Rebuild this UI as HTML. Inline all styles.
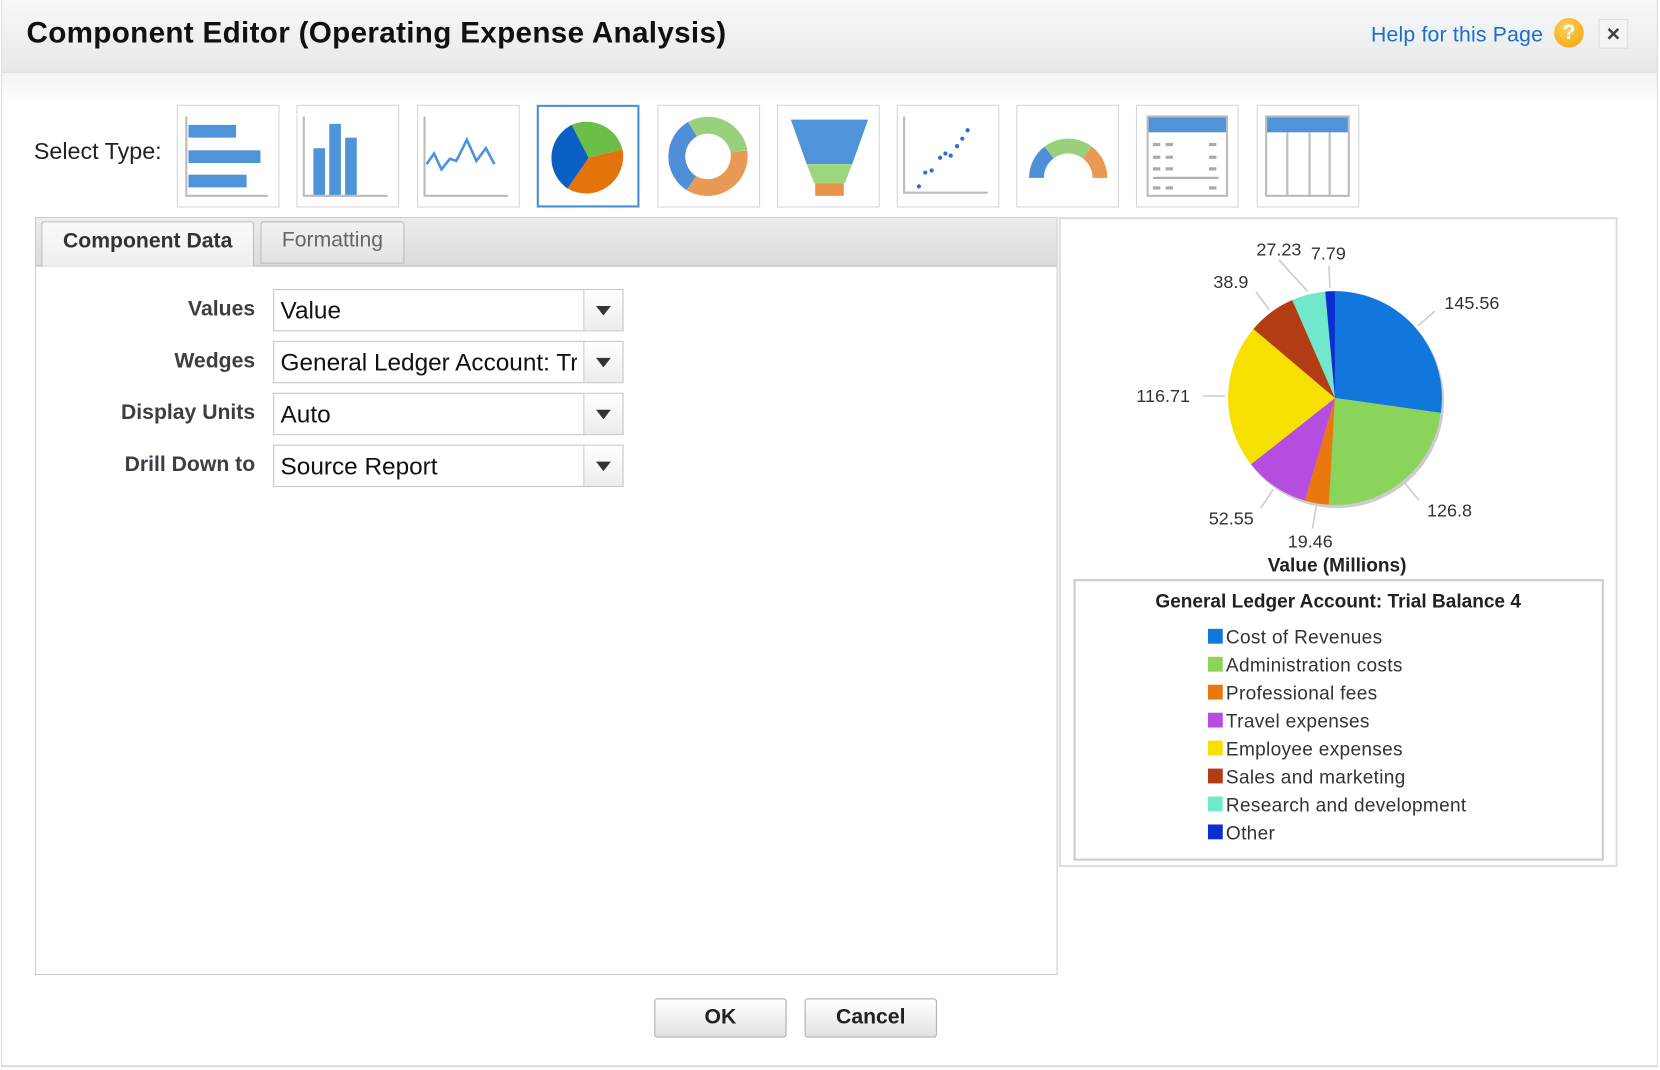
<!DOCTYPE html>
<html><head><meta charset="utf-8">
<style>
html,body{margin:0;padding:0;background:#fff;overflow:hidden;}
body{width:1660px;height:1070px;font-family:"Liberation Sans",Arial,sans-serif;}
#wrap{position:absolute;left:0;top:0;width:1568px;height:1011px;transform:scale(1.05867);transform-origin:0 0;}
.abs{position:absolute;}
.tbox{position:absolute;top:99px;width:97px;height:97px;border:1px solid #d6d6d6;background:#fff;box-sizing:border-box;}
.lbl{position:absolute;right:1327px;font-size:20px;font-weight:bold;color:#3d3d45;}
.sel{position:absolute;left:258px;width:331px;height:40px;border:1px solid #c4c4c4;box-sizing:border-box;background:#fff;font-size:23px;color:#111;}
.sel span{position:absolute;left:6px;top:6px;white-space:nowrap;overflow:hidden;width:282px;}
.sel i{position:absolute;right:0;top:0;width:36px;height:38px;border-left:1px solid #ccc;background:linear-gradient(#fff,#ececec);}
.sel i:after{content:"";position:absolute;left:11px;top:15px;border-left:7px solid transparent;border-right:7px solid transparent;border-top:9px solid #333;}
.btn{position:absolute;top:943px;height:37px;width:125px;border:1px solid #aaa;border-radius:3px;background:linear-gradient(#fff,#e2e2e2);box-sizing:border-box;font-size:20px;font-weight:bold;color:#222;text-align:center;line-height:35px;}
</style></head><body>
<div id="wrap">
<div class="abs" style="left:2px;top:0;width:1564px;height:68px;background:linear-gradient(#f7f8f9,#e6e8ea);border-bottom:1px solid #e0e0e0;"></div>
<div class="abs" style="left:2px;top:69px;width:1564px;height:30px;background:linear-gradient(#f2f2f2,#fff);"></div>
<div class="abs" style="left:1px;top:0;width:1565px;height:1008px;border-left:1px solid #ddd;border-right:1px solid #ddd;border-bottom:2px solid #ddd;box-sizing:border-box;"></div>
<div class="abs" style="left:25px;top:15px;font-size:28px;font-weight:bold;color:#111;letter-spacing:0.3px;">Component Editor (Operating Expense Analysis)</div>
<div class="abs" style="left:1295px;top:22px;font-size:20px;color:#1a6fc9;letter-spacing:0.2px;">Help for this Page</div>
<div class="abs" style="left:1468px;top:17px;width:28px;height:28px;border-radius:50%;background:radial-gradient(circle at 40% 35%,#ffd060,#f0a000);color:#fff;font-weight:bold;font-size:20px;text-align:center;line-height:28px;">?</div>
<div class="abs" style="left:1510px;top:18px;width:28px;height:28px;border:1px solid #ddd;background:#f4f4f4;box-sizing:border-box;text-align:center;font-size:22px;font-weight:bold;line-height:26px;color:#444;">×</div>

<div class="abs" style="left:32px;top:130px;font-size:22px;color:#222;">Select Type:</div>

<div class="tbox" style="left:167px"><svg width="95" height="95"><rect x="10" y="18" width="45" height="12" fill="#4f94db"/><rect x="10" y="42" width="68" height="12" fill="#4f94db"/><rect x="10" y="65" width="55" height="12" fill="#4f94db"/><path d="M8 10V85H85" stroke="#bbb" stroke-width="2" fill="none"/></svg></div>
<div class="tbox" style="left:280px"><svg width="95" height="95"><rect x="15" y="40" width="11" height="45" fill="#4f94db"/><rect x="30" y="17" width="11" height="68" fill="#4f94db"/><rect x="45" y="30" width="11" height="55" fill="#4f94db"/><path d="M6 10V85H85" stroke="#bbb" stroke-width="2" fill="none"/></svg></div>
<div class="tbox" style="left:394px"><svg width="95" height="95"><polyline points="8,55 15,45 22,60 30,50 36,52 46,32 55,52 64,40 72,55" stroke="#4f94db" stroke-width="2.5" fill="none"/><path d="M6 10V85H85" stroke="#bbb" stroke-width="2" fill="none"/></svg></div>
<div class="tbox" style="left:507px;border:2px solid #4a90d9"><svg width="93" height="93"><g transform="translate(47,48)"><path d="M0 0L-16 -31A35 35 0 0 1 32 -8Z" fill="#6bbf47"/><path d="M0 0L32 -8A35 35 0 0 1 -20 29Z" fill="#e3730a"/><path d="M0 0L-20 29A35 35 0 0 1 -16 -31Z" fill="#0a5fc4"/></g></svg></div>
<div class="tbox" style="left:621px"><svg width="95" height="95"><g transform="translate(47,48)" fill="none" stroke-width="16"><path d="M-15 -26A30 30 0 0 1 29 -5" stroke="#98d07e"/><path d="M29 -5A30 30 0 0 1 -16 25" stroke="#e89a55"/><path d="M-16 25A30 30 0 0 1 -15 -26" stroke="#4f8fd8"/></g></svg></div>
<div class="tbox" style="left:734px"><svg width="95" height="95"><path d="M12 13H85L70 55H27Z" fill="#4f94db"/><path d="M27 55H70L63 73H34Z" fill="#9cd67e"/><rect x="35" y="73" width="27" height="12" fill="#e8924a"/></svg></div>
<div class="tbox" style="left:847px"><svg width="95" height="95"><g fill="#2f6fd0"><circle cx="20" cy="76" r="2"/><circle cx="26" cy="63" r="2"/><circle cx="32" cy="61" r="2"/><circle cx="40" cy="49" r="2"/><circle cx="45" cy="45" r="2"/><circle cx="50" cy="47" r="2"/><circle cx="56" cy="38" r="2"/><circle cx="61" cy="31" r="2"/><circle cx="66" cy="23" r="2"/></g><path d="M6 10V82H85" stroke="#bbb" stroke-width="2" fill="none"/></svg></div>
<div class="tbox" style="left:960px"><svg width="95" height="95"><g transform="translate(48,68)" fill="none" stroke-width="14"><path d="M-30 0A30 30 0 0 1 -18 -24" stroke="#4f8fd8"/><path d="M-18 -24A30 30 0 0 1 18 -24" stroke="#98d07e"/><path d="M18 -24A30 30 0 0 1 30 0" stroke="#e89a55"/></g></svg></div>
<div class="tbox" style="left:1073px"><svg width="95" height="95"><rect x="10" y="10" width="75" height="15" fill="#4f94db"/><rect x="10" y="10" width="75" height="75" stroke="#bbb" stroke-width="2" fill="none"/><g fill="#aaa"><rect x="15" y="35" width="7" height="3"/><rect x="27" y="35" width="7" height="3"/><rect x="68" y="35" width="7" height="3"/><rect x="15" y="47" width="7" height="3"/><rect x="27" y="47" width="7" height="3"/><rect x="68" y="47" width="7" height="3"/><rect x="15" y="58" width="7" height="3"/><rect x="27" y="58" width="7" height="3"/><rect x="68" y="58" width="7" height="3"/><rect x="15" y="67" width="62" height="2"/><rect x="15" y="76" width="7" height="3"/><rect x="27" y="76" width="7" height="3"/><rect x="68" y="76" width="7" height="3"/></g></svg></div>
<div class="tbox" style="left:1187px"><svg width="95" height="95"><rect x="8" y="10" width="78" height="15" fill="#4f94db"/><rect x="8" y="10" width="78" height="75" stroke="#bbb" stroke-width="2" fill="none"/><path d="M28 25V85M49 25V85M68 25V85" stroke="#bbb" stroke-width="2"/></svg></div>

<div class="abs" style="left:33px;top:205px;width:966px;height:716px;border:1px solid #ccc;box-sizing:border-box;background:#fff;"></div>
<div class="abs" style="left:34px;top:206px;width:964px;height:46px;background:linear-gradient(#ececec,#dcdcdc);border-bottom:2px solid #ccc;box-sizing:border-box;"></div>
<div class="abs" style="left:39px;top:209px;width:201px;height:43px;background:linear-gradient(#fafafa,#eee);border:1px solid #bbb;border-bottom:none;border-radius:3px 3px 0 0;box-sizing:border-box;font-size:20px;font-weight:bold;color:#333;text-align:center;line-height:36px;">Component Data</div>
<div class="abs" style="left:246px;top:209px;width:136px;height:40px;background:linear-gradient(#f2f2f2,#e2e2e2);border:1px solid #bbb;border-radius:3px 3px 0 0;box-sizing:border-box;font-size:20px;color:#666;text-align:center;line-height:34px;">Formatting</div>

<div class="lbl" style="top:281px">Values</div>
<div class="sel" style="top:273px"><span>Value</span><i></i></div>
<div class="lbl" style="top:330px">Wedges</div>
<div class="sel" style="top:322px"><span style="width:280px">General Ledger Account: Trial Balance 4</span><i></i></div>
<div class="lbl" style="top:379px">Display Units</div>
<div class="sel" style="top:371px"><span>Auto</span><i></i></div>
<div class="lbl" style="top:428px">Drill Down to</div>
<div class="sel" style="top:420px"><span>Source Report</span><i></i></div>

<div class="abs" style="left:1000px;top:205px;width:528px;height:614px;border:2px solid #ddd;box-sizing:border-box;background:#fff;"></div>
<svg class="abs" id="chart" style="left:1000px;top:205px" width="528" height="614"></svg>

<div class="btn" style="left:618px">OK</div>
<div class="btn" style="left:760px">Cancel</div>
</div>
<script>
const categories=["Cost of Revenues","Administration costs","Professional fees","Travel expenses","Employee expenses","Sales and marketing","Research and development","Other"];
const values=[145.56,126.8,19.46,52.55,116.71,38.9,27.23,7.79];
const valueLabels=["145.56","126.8","19.46","52.55","116.71","38.9","27.23","7.79"];
const colors=["#1277dc","#8ad45c","#e8780c","#b54de0","#f5e000","#b33c14","#70e8cc","#0b2fcf"];
const NS="http://www.w3.org/2000/svg";
const svg=document.getElementById('chart');
function mk(t,a){const e=document.createElementNS(NS,t);for(const k in a)e.setAttribute(k,a[k]);svg.appendChild(e);return e;}
const cx=261,cy=171,r=101;
const total=values.reduce((a,b)=>a+b,0);
function pt(ang,rad){return [cx+rad*Math.sin(ang),cy-rad*Math.cos(ang)];}
const sh=mk('circle',{cx:cx+2,cy:cy+3,r:r,fill:'#ccc'});


let a0=0;
const placed=[];
values.forEach((v,i)=>{
  const a1=a0+v/total*2*Math.PI;
  const p0=pt(a0,r),p1=pt(a1,r);
  const large=(a1-a0)>Math.PI?1:0;
  const s=mk('path',{d:`M${cx} ${cy}L${p0[0]} ${p0[1]}A${r} ${r} 0 ${large} 1 ${p1[0]} ${p1[1]}Z`,fill:colors[i]});
  
  
  const m=(a0+a1)/2;
  placed.push({m:m,i:i});
  a0=a1;
});
// label layout with simple collision avoidance
const boxes=[];
placed.slice().reverse().forEach(p=>{
  const m=p.m,i=p.i;
  const sn=Math.sin(m);
  let lp=pt(m,r+36);
  let anchor=Math.abs(sn)<0.3?'middle':(sn>0?'start':'end');
  let x=lp[0],y=lp[1]+6;
  const w=valueLabels[i].length*9.5;
  boxes.forEach(b=>{
    const bx0=anchor==='middle'?x-w/2:(anchor==='start'?x:x-w);
    if(Math.abs(y-b.y)<18 && bx0+w>b.x0 && bx0<b.x1){x-= (bx0+w-b.x0)+4; y-=8;}
  });
  const bx0=anchor==='middle'?x-w/2:(anchor==='start'?x:x-w);
  boxes.push({x0:bx0,x1:bx0+w,y:y});
  const l0=pt(m,r+3);
  const l1=pt(m,r+24);
  const ln=mk('line',{x1:l0[0],y1:l0[1],x2:Math.abs(x-lp[0])>3?x+ (anchor==='middle'?0:0):l1[0],y2:Math.abs(x-lp[0])>3?y+4:l1[1],stroke:'#ccc','stroke-width':1.5});
  
  
  const t=mk('text',{x:x,y:y,'font-size':17,fill:'#333','text-anchor':anchor});
  t.textContent=valueLabels[i];
  
  
});
const ax=mk('text',{x:263,y:335,'font-size':18,'font-weight':'bold',fill:'#222','text-anchor':'middle'});
ax.textContent='Value (Millions)';


const lb=mk('rect',{x:15,y:343,width:499,height:264,fill:'#fff',stroke:'#ccc','stroke-width':2});


const lt=mk('text',{x:264,y:369,'font-size':18,'font-weight':'bold',fill:'#222','text-anchor':'middle'});
lt.textContent='General Ledger Account: Trial Balance 4';


categories.forEach((c,i)=>{
  const y=396+i*26.4;
  const sw=mk('rect',{x:141,y:y-7,width:14,height:14,fill:colors[i]});
  
  
  const tx=mk('text',{x:158,y:y+7,'font-size':18,fill:'#333','letter-spacing':'0.3'});
  tx.textContent=c;
  
  
});
</script>
</body></html>
